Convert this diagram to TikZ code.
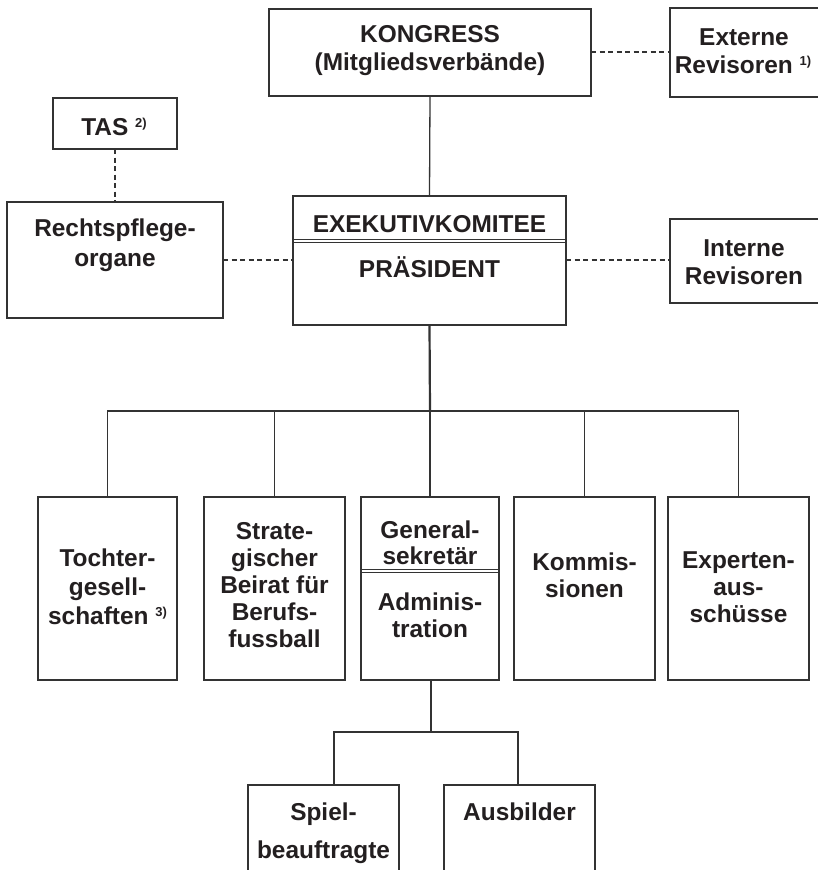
\documentclass[tikz,border=0pt]{standalone}
\usepackage{fontspec}
\setmainfont{Liberation Sans}
\definecolor{linec}{HTML}{333333}
\definecolor{textc}{HTML}{231F20}
\newcommand{\fnmark}[1]{{\fontsize{13}{13}\selectfont\raisebox{8bp}{#1}}}
\begin{document}
\begin{tikzpicture}[x=1bp,y=-1bp,
  box/.style={draw=linec, line width=1.3bp, inner sep=0pt, outer sep=0pt},
  txt/.style={anchor=base, inner sep=0pt, text=textc, font=\fontsize{24.5}{28}\selectfont\bfseries},
  conn/.style={draw=linec, line width=1.3bp},
  thickconn/.style={draw=linec, line width=2.2bp},
  dconn/.style={draw=linec, line width=1.1bp, dash pattern=on 5bp off 3.5bp}]
\useasboundingbox (0,0) rectangle (818,870);
\fill[white] (0,0) rectangle (818,870);
% boxes
\node[box, minimum width=322bp, minimum height=87bp] (kong) at (430,52.5) {};
\node[box, minimum width=149bp, minimum height=89bp] (ext) at (744.5,52.5) {};
\node[box, minimum width=124bp, minimum height=51bp] (tas) at (115,123.5) {};
\node[box, minimum width=216bp, minimum height=116bp] (rechts) at (115,260) {};
\node[box, minimum width=273bp, minimum height=129bp] (exek) at (429.5,260.5) {};
\node[box, minimum width=149bp, minimum height=84bp] (intern) at (744.5,261) {};
\node[box, minimum width=139bp, minimum height=183bp] (b1) at (107.5,588.5) {};
\node[box, minimum width=141bp, minimum height=183bp] (b2) at (274.5,588.5) {};
\node[box, minimum width=138bp, minimum height=183bp] (b3) at (430,588.5) {};
\node[box, minimum width=141bp, minimum height=183bp] (b4) at (584.5,588.5) {};
\node[box, minimum width=141bp, minimum height=183bp] (b5) at (738.5,588.5) {};
\node[box, minimum width=151bp, minimum height=110bp] (s1) at (323.5,840) {};
\node[box, minimum width=151bp, minimum height=110bp] (s2) at (519.5,840) {};
% dividers
\draw[conn, line width=1bp] ([yshift=-43.5bp]exek.north west) -- ([yshift=-43.5bp]exek.north east);
\draw[conn, line width=1bp] ([yshift=-46.1bp]exek.north west) -- ([yshift=-46.1bp]exek.north east);
\draw[conn, line width=1bp] ([yshift=-72.8bp]b3.north west) -- ([yshift=-72.8bp]b3.north east);
\draw[conn, line width=1bp] ([yshift=-75.4bp]b3.north west) -- ([yshift=-75.4bp]b3.north east);
% texts
\node[txt] (t-kong1) at (430,42) {KONGRESS};
\node[txt] (t-kong2) at (430,70) {(Mitgliedsverbände)};
\node[txt] (t-ext1) at (744,45) {Externe};
\node[txt] (t-ext2) at (743,73) {Revisoren~\fnmark{1)}};
\node[txt] (t-tas) at (114,135) {TAS~\fnmark{2)}};
\node[txt] (t-re1) at (115,236) {Rechtspflege-};
\node[txt] (t-re2) at (115,266) {organe};
\node[txt] (t-ex1) at (429.5,232) {EXEKUTIVKOMITEE};
\node[txt] (t-ex2) at (429.5,277) {PRÄSIDENT};
\node[txt] (t-in1) at (744,256) {Interne};
\node[txt] (t-in2) at (744,284) {Revisoren};
\node[txt] (t-b11) at (107.5,566) {Tochter-};
\node[txt] (t-b12) at (107.5,595) {gesell-};
\node[txt] (t-b13) at (107.5,624) {schaften~\fnmark{3)}};
\node[txt] (t-b21) at (274.5,539) {Strate-};
\node[txt] (t-b22) at (274.5,566) {gischer};
\node[txt] (t-b23) at (274.5,593) {Beirat für};
\node[txt] (t-b24) at (274.5,620) {Berufs-};
\node[txt] (t-b25) at (274.5,647) {fussball};
\node[txt] (t-b31) at (430,538) {General-};
\node[txt] (t-b32) at (430,564) {sekretär};
\node[txt] (t-b33) at (430,610) {Adminis-};
\node[txt] (t-b34) at (430,637) {tration};
\node[txt] (t-b41) at (584.5,570) {Kommis-};
\node[txt] (t-b42) at (584.5,597) {sionen};
\node[txt] (t-b51) at (738.5,568) {Experten-};
\node[txt] (t-b52) at (738.5,595) {aus-};
\node[txt] (t-b53) at (738.5,622) {schüsse};
\node[txt] (t-s11) at (323.5,820) {Spiel-};
\node[txt] (t-s12) at (323.5,858) {beauftragte};
\node[txt] (t-s21) at (519.5,820) {Ausbilder};
% solid connectors
\draw[conn] (kong.south) -- (exek.north);
\coordinate (bus) at (430,411);
\draw[thickconn] (exek.south) -- (bus);
\draw[conn] (b1.north) |- (bus) -| (b5.north);
\draw[conn] (b2.north) -- (b2.north |- bus);
\draw[conn] (b3.north) -- (bus);
\draw[conn] (b4.north) -- (b4.north |- bus);
\coordinate (sbus) at (431,732);
\coordinate (sl) at (334,785);
\coordinate (sr) at (518,785);
\draw[thickconn] (b3.south -| sbus) -- (sbus);
\draw[conn] (sl) |- (sbus) -| (sr);
% dashed connectors
\draw[dconn] (kong.east |- 0,52) -- (ext.west |- 0,52);
\draw[dconn] (tas.south) -- (rechts.north);
\draw[dconn] (rechts.east) -- (exek.west |- rechts.east);
\draw[dconn] (exek.east |- rechts.east) -- (intern.west |- rechts.east);
\end{tikzpicture}
\end{document}
